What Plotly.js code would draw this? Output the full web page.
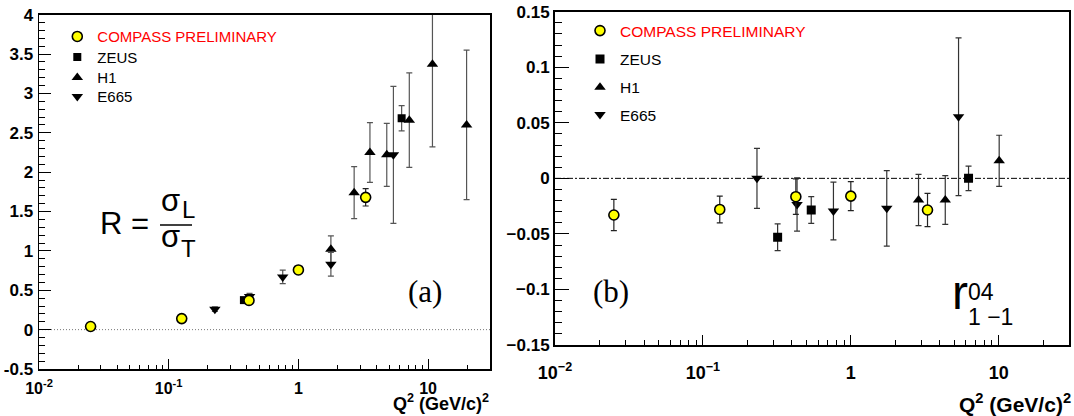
<!DOCTYPE html>
<html>
<head>
<meta charset="utf-8">
<script src="https://cdn.plot.ly/plotly-3.0.1.min.js"></script>
<style>html,body{margin:0;padding:0;background:#fff;}#chart{width:1074px;height:416px;}</style>
</head>
<body>
<div id="chart"></div>
<script>
// ---------- Panel (a): R = sigma_L / sigma_T ----------
var compassR_x = [0.025, 0.126, 0.416, 1.0, 3.3];
var compassR_y = [0.04, 0.14, 0.371, 0.758, 1.68];
var compassR_e = [0.02, 0.02, 0.02, 0.03, 0.11];

var zeusR_x = [0.38, 6.25];
var zeusR_y = [0.375, 2.685];
var zeusR_e = [0.03, 0.16];

var h1R_x = [1.78, 2.69, 3.56, 4.8, 7.16, 10.8, 19.8];
var h1R_y = [1.02, 1.74, 2.25, 2.22, 2.66, 3.37, 2.6];
var h1R_e = [0.17, 0.33, 0.38, 0.4, 0.6, 1.05, 0.95];

var e665R_x = [0.227, 0.42, 0.757, 1.78, 5.4];
var e665R_y = [0.26, 0.42, 0.67, 0.83, 2.22];
var e665R_e = [0.03, 0.04, 0.085, 0.15, 0.87];

// ---------- Panel (b): r04_{1-1} ----------
var compassB_x = [0.025, 0.13, 0.425, 1.0, 3.3];
var compassB_y = [-0.033, -0.028, -0.0165, -0.016, -0.0285];
var compassB_e = [0.014, 0.012, 0.016, 0.013, 0.015];

var zeusB_x = [0.32, 0.54, 6.25];
var zeusB_y = [-0.053, -0.0285, 0.0];
var zeusB_e = [0.012, 0.012, 0.011];

var h1B_x = [2.87, 4.35, 10.07];
var h1B_y = [-0.0195, -0.0195, 0.0158];
var h1B_e = [0.023, 0.022, 0.023];

var e665B_x = [0.232, 0.433, 0.763, 1.75, 5.35];
var e665B_y = [0.0, -0.0235, -0.0294, -0.027, 0.0555];
var e665B_e = [0.027, 0.024, 0.026, 0.034, 0.071];

// ---------- Tick labels ----------
var xTickVals = [0.01, 0.1, 1, 10];
var xTickTextA = ['10<sup>-2</sup>', '10<sup>-1</sup>', '1', '10'];
var xTickTextB = ['10<sup>\u22122</sup>', '10<sup>\u22121</sup>', '1', '10'];
var xMinorVals = [0.02,0.03,0.04,0.05,0.06,0.07,0.08,0.09,0.2,0.3,0.4,0.5,0.6,0.7,0.8,0.9,2,3,4,5,6,7,8,9,20];
var yTickValsA = [-0.5, 0, 0.5, 1, 1.5, 2, 2.5, 3, 3.5, 4];
var yTickTextA = ['-0.5', '0', '0.5', '1', '1.5', '2', '2.5', '3', '3.5', '4'];
var yTickValsB = [-0.15, -0.1, -0.05, 0, 0.05, 0.1, 0.15];
var yTickTextB = ['\u22120.15', '\u22120.1', '\u22120.05', '0', '0.05', '0.1', '0.15'];

var seriesNames = ['COMPASS PRELIMINARY', 'ZEUS', 'H1', 'E665'];

// ---------- styling ----------
var W = 1074, H = 416;
function px(x) { return x / W; }
function py(y) { return 1 - y / H; }
function bold(arr) { return arr.map(function (t) { return '<b>' + t + '</b>'; }); }
var SANS = '"Liberation Sans", Arial, sans-serif';
var SERIF = '"Liberation Serif", "Times New Roman", serif';
var YEL = '#ffff00';

function errs(arr, col) {
  return {type: 'data', array: arr, visible: true, color: col, thickness: 1.2, width: 3};
}
function trace(x, y, e, name, sym, size, fill, xa, ya, leg, ecol) {
  return {
    type: 'scatter', mode: 'markers', x: x, y: y, name: name,
    xaxis: xa, yaxis: ya, legend: leg, showlegend: true,
    error_y: errs(e, ecol),
    marker: {symbol: sym, size: size, color: fill, line: {color: '#000', width: fill === YEL ? 1.6 : 0}},
    hoverinfo: 'x+y'
  };
}

var data = [
  trace(h1R_x, h1R_y, h1R_e, seriesNames[2], 'triangle-up', 10, '#000', 'x', 'y', 'legend3', '#555'),
  trace(e665R_x, e665R_y, e665R_e, seriesNames[3], 'triangle-down', 10, '#000', 'x', 'y', 'legend4', '#555'),
  trace(zeusR_x, zeusR_y, zeusR_e, seriesNames[1], 'square', 8, '#000', 'x', 'y', 'legend2', '#555'),
  trace(compassR_x, compassR_y, compassR_e, seriesNames[0], 'circle', 10, YEL, 'x', 'y', 'legend', '#222'),
  trace(h1B_x, h1B_y, h1B_e, seriesNames[2], 'triangle-up', 10, '#000', 'x2', 'y2', 'legend7', '#333'),
  trace(e665B_x, e665B_y, e665B_e, seriesNames[3], 'triangle-down', 10, '#000', 'x2', 'y2', 'legend8', '#333'),
  trace(zeusB_x, zeusB_y, zeusB_e, seriesNames[1], 'square', 9, '#000', 'x2', 'y2', 'legend6', '#333'),
  trace(compassB_x, compassB_y, compassB_e, seriesNames[0], 'circle', 10, YEL, 'x2', 'y2', 'legend5', '#222')
];

function legendAt(xMarker, yCenter, fontSize, color) {
  return {
    x: px(xMarker - 20), y: py(yCenter), xanchor: 'left', yanchor: 'middle',
    xref: 'paper', yref: 'paper', bgcolor: 'rgba(0,0,0,0)', borderwidth: 0,
    font: {family: SANS, size: fontSize, color: color}, itemclick: false, itemdoubleclick: false
  };
}

var axisCommon = {
  type: 'log', range: [-2, Math.log10(30)], tickmode: 'array', tickvals: xTickVals,
  ticks: 'inside', tickcolor: '#000', tickwidth: 1, showline: true, linecolor: '#000',
  mirror: true, showgrid: false, zeroline: false, automargin: false, fixedrange: true
};

var layout = {
  width: W, height: H,
  margin: {l: 0, r: 0, t: 0, b: 0},
  paper_bgcolor: '#fff', plot_bgcolor: '#fff',
  font: {family: SANS, size: 16, color: '#000'},
  showlegend: true,
  xaxis: Object.assign({}, axisCommon, {
    domain: [px(39), px(490)], anchor: 'y', ticktext: bold(xTickTextA), ticklen: 10, linewidth: 1.5,
    ticklabelstandoff: 4,
    tickfont: {family: SANS, size: 16, color: '#000'},
    minor: {tickmode: 'array', tickvals: xMinorVals, ticks: 'inside', ticklen: 4, tickcolor: '#000', tickwidth: 1, showgrid: false}
  }),
  yaxis: {
    domain: [py(369), py(14.7)], anchor: 'x', range: [-0.5, 4], tickmode: 'array',
    tickvals: yTickValsA, ticktext: bold(yTickTextA), ticks: 'inside', ticklen: 12, tickwidth: 1, tickcolor: '#000',
    showline: true, linecolor: '#000', linewidth: 1.5, mirror: true, showgrid: false, zeroline: false,
    automargin: false, fixedrange: true, ticklabelstandoff: 1,
    tickfont: {family: SANS, size: 17, color: '#000'},
    minor: {tickmode: 'linear', tick0: 0, dtick: 0.1, ticks: 'inside', ticklen: 6, tickcolor: '#000', tickwidth: 1, showgrid: false}
  },
  xaxis2: Object.assign({}, axisCommon, {
    domain: [px(555), px(1069.3)], anchor: 'y2', ticktext: bold(xTickTextB), ticklen: 10, linewidth: 2,
    ticklabelstandoff: 10,
    tickfont: {family: SANS, size: 18, color: '#000'},
    minor: {tickmode: 'array', tickvals: xMinorVals, ticks: 'inside', ticklen: 5, tickcolor: '#000', tickwidth: 1, showgrid: false}
  }),
  yaxis2: {
    domain: [py(345), py(11.7)], anchor: 'x2', range: [-0.15, 0.15], tickmode: 'array',
    tickvals: yTickValsB, ticktext: bold(yTickTextB), ticks: 'inside', ticklen: 14, tickwidth: 1, tickcolor: '#000',
    showline: true, linecolor: '#000', linewidth: 2, mirror: true, showgrid: false, zeroline: false,
    automargin: false, fixedrange: true, ticklabelstandoff: 0,
    tickfont: {family: SANS, size: 17, color: '#000'},
    minor: {tickmode: 'linear', tick0: 0, dtick: 0.01, ticks: 'inside', ticklen: 7, tickcolor: '#000', tickwidth: 1, showgrid: false}
  },
  legend:  legendAt(77.3, 36.7, 15, '#ff0000'),
  legend2: legendAt(77.3, 57.3, 15, '#000'),
  legend3: legendAt(77.3, 77.7, 15, '#000'),
  legend4: legendAt(77.3, 96.7, 15, '#000'),
  legend5: legendAt(600, 31, 15.5, '#ff0000'),
  legend6: legendAt(600, 59.3, 15.5, '#000'),
  legend7: legendAt(600, 87.7, 15.5, '#000'),
  legend8: legendAt(600, 115, 15.5, '#000'),
  shapes: [
    {type: 'line', xref: 'x domain', x0: 0, x1: 1, yref: 'y', y0: 0, y1: 0, layer: 'below',
     line: {color: '#777', width: 1, dash: '1px,2px'}},
    {type: 'line', xref: 'x2 domain', x0: 0, x1: 1, yref: 'y2', y0: 0, y1: 0, layer: 'below',
     line: {color: '#000', width: 1, dash: '6px,2px,2px,2px'}},
    {type: 'line', xref: 'paper', yref: 'paper', x0: px(160), x1: px(192), y0: py(225), y1: py(225),
     line: {color: '#000', width: 1.5}}
  ],
  annotations: [
    {text: 'R =', x: px(99), y: py(223), xanchor: 'left', yanchor: 'middle', font: {family: SANS, size: 31, color: '#000'}},
    {text: '\u03c3', x: px(170), y: py(201), xanchor: 'center', yanchor: 'middle', font: {family: SANS, size: 31, color: '#000'}},
    {text: 'L', x: px(181), y: py(209.6), xanchor: 'left', yanchor: 'middle', font: {family: SANS, size: 24, color: '#000'}},
    {text: '\u03c3', x: px(170), y: py(236), xanchor: 'center', yanchor: 'middle', font: {family: SANS, size: 31, color: '#000'}},
    {text: 'T', x: px(180), y: py(248.6), xanchor: 'left', yanchor: 'middle', font: {family: SANS, size: 24, color: '#000'}},
    {text: '(a)', x: px(407), y: py(291), xanchor: 'left', yanchor: 'middle', font: {family: SERIF, size: 31, color: '#000'}},
    {text: '(b)', x: px(592), y: py(291), xanchor: 'left', yanchor: 'middle', font: {family: SERIF, size: 31, color: '#000'}},
    {text: 'r', x: px(951), y: py(292.5), xanchor: 'left', yanchor: 'middle', font: {family: SANS, size: 48, color: '#000'}},
    {text: '04', x: px(966.7), y: py(291.5), xanchor: 'left', yanchor: 'middle', font: {family: SANS, size: 23, color: '#000'}},
    {text: '1 \u22121', x: px(966.7), y: py(316.5), xanchor: 'left', yanchor: 'middle', font: {family: SANS, size: 23, color: '#000'}},
    {text: '<b>Q<sup>2</sup> (GeV/c)<sup>2</sup></b>', x: px(490), y: py(402), xanchor: 'right', yanchor: 'middle',
     font: {family: SANS, size: 18, color: '#000'}},
    {text: '<b>Q<sup>2</sup> (GeV/c)<sup>2</sup></b>', x: px(1072), y: py(402.5), xanchor: 'right', yanchor: 'middle',
     font: {family: SANS, size: 21, color: '#000'}}
  ].map(function (a) { a.xref = 'paper'; a.yref = 'paper'; a.showarrow = false; a.borderpad = 0; return a; })
};

Plotly.newPlot('chart', data, layout, {displayModeBar: false, staticPlot: true});
</script>
</body>
</html>
